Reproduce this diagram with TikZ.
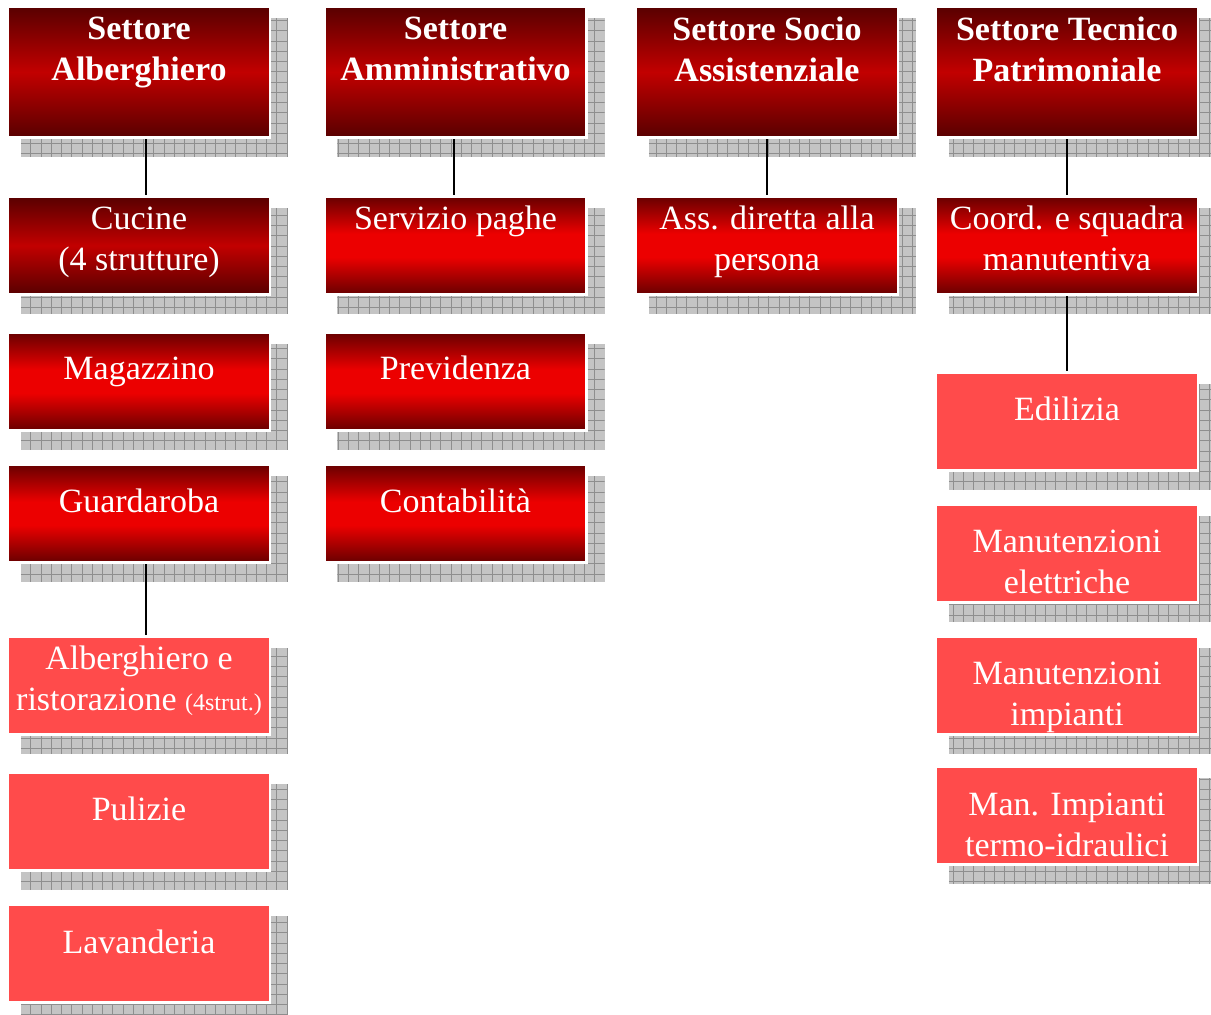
\documentclass[tikz,border=0pt]{standalone}
\usepackage{fontspec}
\setmainfont{Liberation Serif}
\usetikzlibrary{backgrounds}

\definecolor{wine}{HTML}{580000}
\definecolor{winemid}{HTML}{C20000}
\definecolor{scarletdk}{HTML}{680000}
\definecolor{scarlet}{HTML}{EC0000}
\definecolor{coral}{HTML}{FF4B4B}
\definecolor{shadowgray}{HTML}{C4C4C4}
\definecolor{gridgray}{HTML}{8E8E8E}

% vertical shadings: TikZ maps 25bp..75bp onto the path height
\pgfdeclareverticalshading{deepred}{100bp}{color(0bp)=(wine); color(25bp)=(wine);
  color(50bp)=(winemid); color(75bp)=(wine); color(100bp)=(wine)}
\pgfdeclareverticalshading{brightred}{100bp}{color(0bp)=(scarletdk); color(25bp)=(scarletdk);
  color(44bp)=(scarlet); color(56bp)=(scarlet); color(75bp)=(scarletdk); color(100bp)=(scarletdk)}

\tikzset{
  unit/.style={draw=white, line width=2.2, minimum width=262, minimum height=#1, inner sep=0},
  deepbox/.style={unit=#1, shading=deepred, shade},
  brightbox/.style={unit=#1, shading=brightred, shade},
  lightbox/.style={unit=#1, fill=coral},
  tag/.style={anchor=north, text=white, align=center, inner sep=0,
    font=\fontsize{34}{41}\selectfont},
  headtag/.style={tag, font=\fontsize{34}{41}\selectfont\bfseries},
  link/.style={draw=black, line width=1.6},
  gridshadow/.style={fill=shadowgray, path picture={
      \pgfsetstrokecolor{gridgray}\pgfsetlinewidth{0.9pt}%
      \pgfpathgrid[stepx=10.25pt,stepy=10.25pt]
        {\pgfpointanchor{path picture bounding box}{south west}}
        {\pgfpointanchor{path picture bounding box}{north east}}%
      \pgfusepath{stroke}}}
}

\newcommand{\dropshadow}[1]{%
  \path[gridshadow] ([shift={(14,13)}]#1.north west) rectangle ([shift={(17,18)}]#1.south east);}

\begin{document}
\begin{tikzpicture}[x=1pt, y=-1pt]
\useasboundingbox (0,0) rectangle (1211,1015);
\clip (0,0) rectangle (1211,1015);

% ---- sector headers
\node[deepbox=131] (hAlb) at (139,72) {};
\node[deepbox=131] (hAmm) at (455.5,72) {};
\node[deepbox=131] (hSoc) at (767,72) {};
\node[deepbox=131] (hTec) at (1067,72) {};
\node[headtag] (thAlb) at ([yshift=-11.5]hAlb.north) {Settore\\Alberghiero};
\node[headtag] (thAmm) at ([yshift=-11.5]hAmm.north) {Settore\\Amministrativo};
\node[headtag] (thSoc) at ([yshift=-11.5]hSoc.north) {Settore Socio\\Assistenziale};
\node[headtag] (thTec) at ([yshift=-11.5]hTec.north) {Settore Tecnico\\Patrimoniale};

% ---- Settore Alberghiero
\node[deepbox=98] (cuc) at (139,245.5) {};
\node[tag] (tcuc) at ([yshift=-11]cuc.north) {Cucine\\(4 strutture)};
\node[brightbox=98] (mag) at (139,381.5) {};
\node[tag] (tmag) at ([yshift=-25]mag.north) {Magazzino};
\node[brightbox=98] (gua) at (139,513.5) {};
\node[tag] (tgua) at ([yshift=-25]gua.north) {Guardaroba};
\node[lightbox=98] (ris) at (139,685.5) {};
\node[tag] (tris) at ([yshift=-10.5]ris.north) {Alberghiero e\\ristorazione {\fontsize{24}{41}\selectfont(4strut.)}};
\node[lightbox=98] (pul) at (139,821.5) {};
\node[tag] (tpul) at ([yshift=-25]pul.north) {Pulizie};
\node[lightbox=98] (lav) at (139,953.5) {};
\node[tag] (tlav) at ([yshift=-26]lav.north) {Lavanderia};

% ---- Settore Amministrativo
\node[brightbox=98] (pag) at (455.5,245.5) {};
\node[tag] (tpag) at ([yshift=-10]pag.north) {Servizio paghe};
\node[brightbox=98] (pre) at (455.5,381.5) {};
\node[tag] (tpre) at ([yshift=-24.5]pre.north) {Previdenza};
\node[brightbox=98] (con) at (455.5,513.5) {};
\node[tag] (tcon) at ([yshift=-25]con.north) {Contabilità};

% ---- Settore Socio Assistenziale
\node[brightbox=98] (ass) at (767,245.5) {};
\node[tag] (tass) at ([yshift=-10.5]ass.north) {Ass. diretta alla\\persona};

% ---- Settore Tecnico Patrimoniale
\node[brightbox=98] (coo) at (1067,245.5) {};
\node[tag] (tcoo) at ([yshift=-10]coo.north) {Coord. e squadra\\manutentiva};
\node[lightbox=98] (edi) at (1067,421.5) {};
\node[tag] (tedi) at ([yshift=-25]edi.north) {Edilizia};
\node[lightbox=98] (ele) at (1067,553.5) {};
\node[tag] (tele) at ([yshift=-26]ele.north) {Manutenzioni\\elettriche};
\node[lightbox=98] (imp) at (1067,685.5) {};
\node[tag] (timp) at ([yshift=-26.5]imp.north) {Manutenzioni\\impianti};
\node[lightbox=98] (ter) at (1067,815.5) {};
\node[tag] (tter) at ([yshift=-27]ter.north) {Man. Impianti\\termo-idraulici};

\begin{pgfonlayer}{background}
  % grid-patterned drop shadows
  \foreach \b in {hAlb,hAmm,hSoc,hTec,cuc,mag,gua,ris,pul,lav,pag,pre,con,ass,coo,edi,ele,imp,ter}
    {\dropshadow{\b}}
  % connectors
  \draw[link] ([xshift=7]hAlb.south) -- ([xshift=7]cuc.north);
  \draw[link] ([xshift=7]gua.south) -- ([xshift=7]ris.north);
  \draw[link] ([xshift=-1.5]hAmm.south) -- ([xshift=-1.5]pag.north);
  \draw[link] (hSoc.south) -- (ass.north);
  \draw[link] (hTec.south) -- (coo.north);
  \draw[link] (coo.south) -- (edi.north);
\end{pgfonlayer}
\end{tikzpicture}
\end{document}
